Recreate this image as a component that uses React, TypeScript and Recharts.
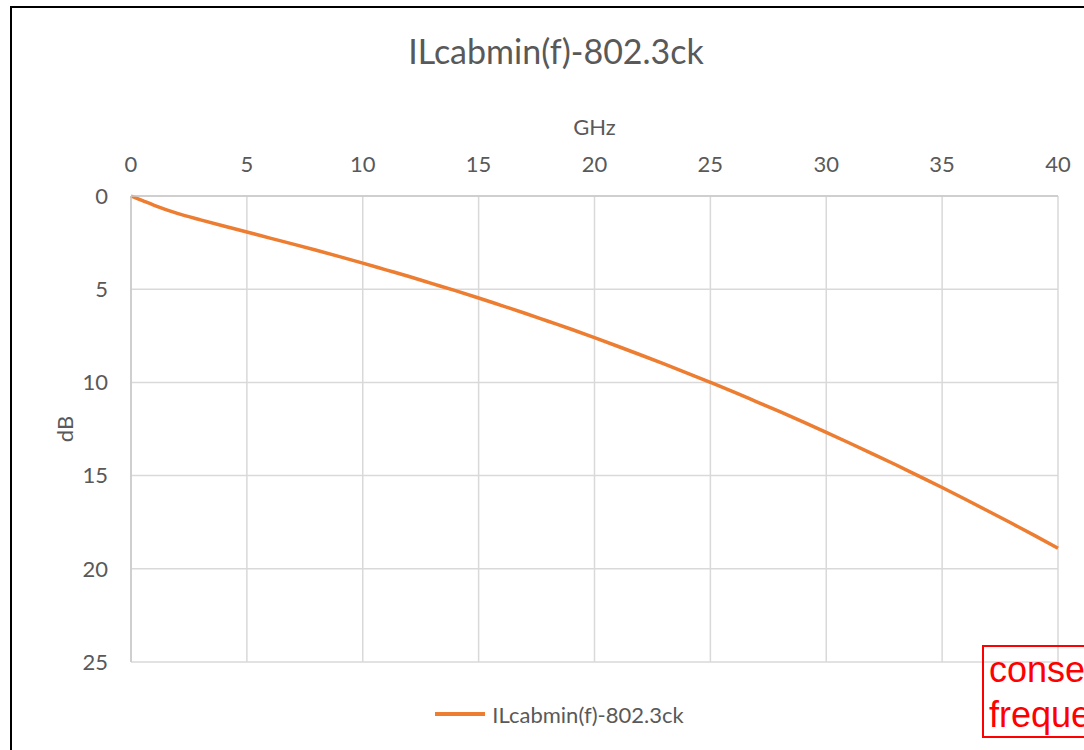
import React from "react";
import {
  LineChart,
  Line,
  XAxis,
  YAxis,
  CartesianGrid,
  Legend,
} from "recharts";

// frequency in GHz
const FREQ = [
  0, 0.5, 1, 2, 3, 4, 5, 6, 7, 8, 9, 10, 11, 12, 13, 14, 15, 16, 17, 18, 19,
  20, 21, 22, 23, 24, 25, 26, 27, 28, 29, 30, 31, 32, 33, 34, 35, 36, 37, 38,
  39, 40,
];

// ILcabmin in dB
const IL = [
  0, 0.25, 0.5, 0.93, 1.28, 1.61, 1.93, 2.26, 2.58, 2.91, 3.25, 3.6, 3.96,
  4.32, 4.7, 5.08, 5.47, 5.88, 6.29, 6.72, 7.15, 7.6, 8.06, 8.53, 9.01, 9.5,
  10.0, 10.51, 11.04, 11.57, 12.12, 12.68, 13.25, 13.83, 14.42, 15.03, 15.64,
  16.27, 16.91, 17.56, 18.22, 18.9,
];

const X_TICKS = [0, 5, 10, 15, 20, 25, 30, 35, 40];
const Y_TICKS = [0, 5, 10, 15, 20, 25];

const SERIES_NAME = "ILcabmin(f)-802.3ck";
const ORANGE = "#ED7D31";
const TEXT = "#595959";
const FONT = "Lato, 'Open Sans', sans-serif";

const data = FREQ.map((f, i) => ({ f, il: IL[i] }));

function LegendBox() {
  return (
    <div
      style={{
        height: 30,
        display: "flex",
        alignItems: "center",
        justifyContent: "center",
        fontFamily: FONT,
        fontSize: 22,
        color: TEXT,
        paddingLeft: 30,
      }}
    >
      <span
        style={{
          display: "inline-block",
          width: 50,
          height: 3.5,
          background: ORANGE,
          marginRight: 7,
        }}
      />
      {SERIES_NAME}
    </div>
  );
}

export default function App() {
  return (
    <div
      style={{
        position: "fixed",
        left: 0,
        top: 0,
        width: 1084,
        height: 750,
        overflow: "hidden",
        background: "#fff",
      }}
    >
      <div
        style={{
          position: "absolute",
          left: 10,
          top: 6,
          width: 1200,
          height: 900,
          border: "2px solid #000",
          boxSizing: "border-box",
        }}
      />

      <div
        style={{
          position: "absolute",
          left: 14,
          width: 1084,
          top: 30,
          textAlign: "center",
          fontFamily: FONT,
          fontSize: 34,
          color: TEXT,
        }}
      >
        {SERIES_NAME}
      </div>

      <div style={{ position: "absolute", left: 0, top: 0 }}>
        <LineChart
          width={1084}
          height={750}
          data={data}
          margin={{ top: 106, right: 26, bottom: 58, left: 31 }}
        >
          <CartesianGrid stroke="#d9d9d9" strokeWidth={1.5} />
          <XAxis
            dataKey="f"
            type="number"
            orientation="top"
            domain={[0, 40]}
            ticks={X_TICKS}
            height={90}
            tickLine={false}
            axisLine={{ stroke: "#c8c8c8", strokeWidth: 1.5 }}
            tickMargin={18}
            tick={{ fill: TEXT, fontSize: 22, fontFamily: FONT }}
            label={{
              value: "GHz",
              position: "insideTop",
              offset: 13,
              fill: TEXT,
              fontSize: 22,
              fontFamily: FONT,
            }}
          />
          <YAxis
            type="number"
            reversed
            domain={[0, 25]}
            ticks={Y_TICKS}
            width={100}
            tickLine={false}
            axisLine={{ stroke: "#c8c8c8", strokeWidth: 1.5 }}
            tickMargin={17}
            tick={{ fill: TEXT, fontSize: 22, fontFamily: FONT }}
            label={{
              value: "dB",
              angle: -90,
              position: "insideLeft",
              offset: 34,
              fill: TEXT,
              fontSize: 22,
              fontFamily: FONT,
              style: { textAnchor: "middle" },
            }}
          />
          <Legend
            verticalAlign="bottom"
            content={() => <LegendBox />}
            wrapperStyle={{ bottom: 21 }}
          />
          <Line
            type="monotone"
            dataKey="il"
            name={SERIES_NAME}
            stroke={ORANGE}
            strokeWidth={3.5}
            dot={false}
            isAnimationActive={false}
          />
        </LineChart>
      </div>

      <div
        style={{
          position: "absolute",
          left: 982,
          top: 645,
          width: 300,
          height: 93,
          border: "2px solid #ff0000",
          boxSizing: "border-box",
          padding: "0 0 0 5px",
          fontFamily: "'Liberation Sans', Arial, sans-serif",
          fontSize: 36,
          lineHeight: "45px",
          color: "#ff0000",
        }}
      >
        conse
        <br />
        freque
      </div>
    </div>
  );
}
